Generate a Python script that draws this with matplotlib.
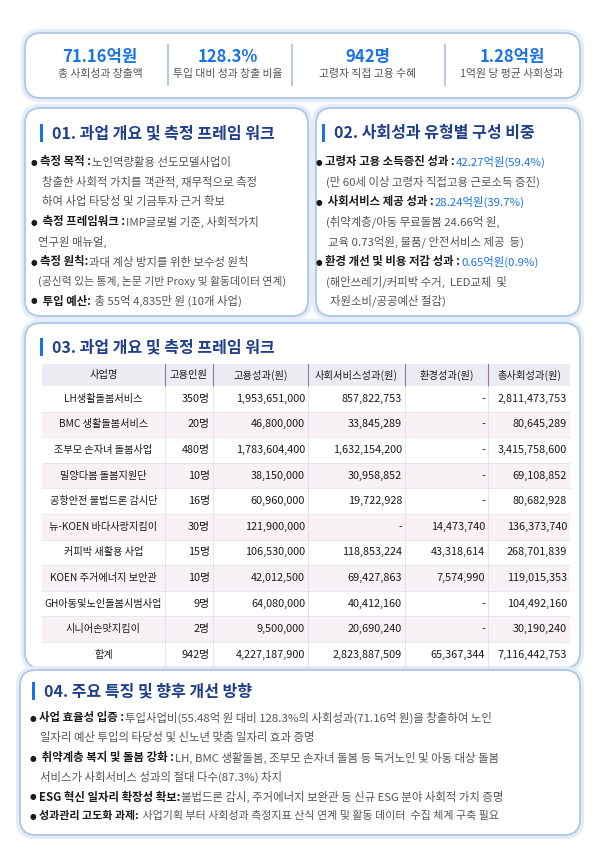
import matplotlib
matplotlib.use("Agg")
import matplotlib.pyplot as plt
from matplotlib.patches import FancyBboxPatch, Rectangle

plt.rcParams['font.family'] = ['Noto Sans CJK KR', 'DejaVu Sans']

kpi_values = ["71.16억원", "128.3%", "942명", "1.28억원"]
kpi_labels = ["총 사회성과 창출액", "투입 대비 성과 창출 비율", "고령자 직접 고용 수혜", "1억원 당 평균 사회성과"]

headers = ["사업명", "고용인원", "고용성과(원)", "사회서비스성과(원)", "환경성과(원)", "총사회성과(원)"]
projects = ["LH생활돌봄서비스", "BMC 생활돌봄서비스", "조부모 손자녀 돌봄사업", "밀양다봄 돌봄지원단",
            "공항안전 불법드론 감시단", "뉴-KOEN 바다사랑지킴이", "커피박 새활용 사업", "KOEN 주거에너지 보안관",
            "GH아동및노인돌봄시범사업", "시니어손맛지킴이", "합계"]
staff = ["350명", "20명", "480명", "10명", "16명", "30명", "15명", "10명", "9명", "2명", "942명"]
emp_perf = ["1,953,651,000", "46,800,000", "1,783,604,400", "38,150,000", "60,960,000", "121,900,000",
            "106,530,000", "42,012,500", "64,080,000", "9,500,000", "4,227,187,900"]
svc_perf = ["857,822,753", "33,845,289", "1,632,154,200", "30,958,852", "19,722,928", "-",
            "118,853,224", "69,427,863", "40,412,160", "20,690,240", "2,823,887,509"]
env_perf = ["-", "-", "-", "-", "-", "14,473,740", "43,318,614", "7,574,990", "-", "-", "65,367,344"]
total_perf = ["2,811,473,753", "80,645,289", "3,415,758,600", "69,108,852", "80,682,928", "136,373,740",
              "268,701,839", "119,015,353", "104,492,160", "30,190,240", "7,116,442,753"]

BLUE = "#1a73e8"
NAVY = "#1f3f8a"
DARK = "#1a1a1a"
GRAY = "#555555"
BORDER = "#a9c4e4"
FS = 8.2

fig = plt.figure(figsize=(5.95, 8.42), dpi=100)
ax = fig.add_axes([0, 0, 1, 1])
ax.set_xlim(0, 595); ax.set_ylim(842, 0); ax.axis("off")

def box(x0, y0, x1, y1):
    ax.add_patch(FancyBboxPatch((x0 - 2, y0 - 2), x1 - x0 + 4, y1 - y0 + 4,
                                boxstyle="round,pad=0,rounding_size=18", fc="none", ec="#e3edf9", lw=3))
    ax.add_patch(FancyBboxPatch((x0, y0), x1 - x0, y1 - y0, boxstyle="round,pad=0,rounding_size=16",
                                fc="white", ec=BORDER, lw=1.2))

def title(x, y, s):
    ax.add_patch(Rectangle((x, y - 9), 3, 18, fc=BLUE, ec="none"))
    ax.text(x + 12, y, s, fontsize=11.5, fontweight="bold", color=NAVY, va="center", ha="left")

def bullet(x, y, bold, rest, rest_color=GRAY, fs=FS):
    ax.text(x, y, "●", fontsize=5.5, color=DARK, va="center", ha="left", family="DejaVu Sans")
    t = ax.text(x + 9, y, bold, fontsize=fs, fontweight="bold", color=DARK, va="center", ha="left")
    fig.canvas.draw()
    w = t.get_window_extent().width
    ax.text(x + 9 + w + 1, y, rest, fontsize=fs, color=rest_color, va="center", ha="left")

def line(x, y, s, fs=FS, color=GRAY):
    ax.text(x, y, s, fontsize=fs, color=color, va="center", ha="left")

# KPI box
box(25, 33, 580, 98)
kx = [100, 228, 368, 512]
for i in range(4):
    ax.text(kx[i], 57, kpi_values[i], fontsize=12, fontweight="bold", color=BLUE, ha="center", va="center")
    ax.text(kx[i], 74, kpi_labels[i], fontsize=7.8, color=GRAY, ha="center", va="center")
for sx in [168, 292, 445]:
    ax.plot([sx, sx], [45, 85], color="#b8c9e3", lw=1.5)

# Box 01
box(25, 108, 308, 316)
title(40, 133, "01. 과업 개요 및 측정 프레임 워크")
bullet(31, 162, "측정 목적 :", "노인역량활용 선도모델사업이")
line(42, 182, "창출한 사회적 가치를 객관적, 재무적으로 측정")
line(42, 201, "하여 사업 타당성 및 기금투자 근거 확보")
bullet(31, 222, " 측정 프레임워크 :", "IMP글로벌 기준, 사회적가치")
line(38, 242, "연구원 매뉴얼,")
bullet(31, 262, "측정 원칙:", "과대 계상 방지를 위한 보수성 원칙")
line(38, 281, "(공신력 있는 통계, 논문 기반 Proxy 및 활동데이터 연계)", fs=7.8)
bullet(31, 301, " 투입 예산:", " 총 55억 4,835만 원 (10개 사업)")

# Box 02
box(316, 108, 580, 316)
title(322, 133, "02. 사회성과 유형별 구성 비중")
bullet(316, 162, "고령자 고용 소득증진 성과 :", "42.27억원(59.4%)", rest_color=BLUE)
line(326, 182, "(만 60세 이상 고령자 직접고용 근로소득 증진)")
bullet(316, 202, " 사회서비스 제공 성과 :", "28.24억원(39.7%)", rest_color=BLUE)
line(326, 222, "(취약계층/아동 무료돌봄 24.66억 원,")
line(328, 242, "교육 0.73억원, 물품/ 안전서비스 제공  등)")
bullet(316, 262, "환경 개선 및 비용 저감 성과 :", "0.65억원(0.9%)", rest_color=BLUE)
line(326, 282, "(해안쓰레기/커피박 수거,  LED교체  및")
line(330, 301, "자원소비/공공예산 절감)")

# Box 03 with table
box(25, 323, 580, 668)
title(40, 347, "03. 과업 개요 및 측정 프레임 워크")
cols = [42, 165, 213, 308, 405, 488, 570]
hy0, hy1 = 364, 386
ax.add_patch(Rectangle((cols[0], hy0), cols[-1] - cols[0], hy1 - hy0, fc="#ebebf2", ec="none"))
for j, h in enumerate(headers):
    ax.text((cols[j] + cols[j+1]) / 2, (hy0 + hy1) / 2, h, fontsize=7.4, color=DARK, ha="center", va="center")
for xc in cols[1:-1]:
    ax.plot([xc, xc], [hy0, hy1], color="#9b6fb5", lw=0.8)
rh = 25.6
for i in range(len(projects)):
    y0 = hy1 + i * rh
    if i % 2 == 1:
        ax.add_patch(Rectangle((cols[0], y0), cols[-1] - cols[0], rh, fc="#f8f1f5", ec="none"))
    yc = y0 + rh / 2
    ax.text((cols[0] + cols[1]) / 2, yc, projects[i], fontsize=7.3, color=DARK, ha="center", va="center")
    vals = [staff[i], emp_perf[i], svc_perf[i], env_perf[i], total_perf[i]]
    for j, v in enumerate(vals):
        ax.text(cols[j + 2] - 3, yc, v, fontsize=7.8, color=DARK, ha="right", va="center")
    ax.plot([cols[0], cols[-1]], [y0 + rh, y0 + rh], color="#e4e4ea", lw=0.6)
ybot = hy1 + len(projects) * rh
for xc in cols[1:-1]:
    ax.plot([xc, xc], [hy1, ybot], color="#e0e0e6", lw=0.6)

# Box 04
box(20, 670, 580, 835)
title(32, 691, "04. 주요 특징 및 향후 개선 방향")
bullet(30, 718, "사업 효율성 입증 :", "투입사업비(55.48억 원 대비 128.3%의 사회성과(71.16억 원)을 창출하여 노인")
line(40, 738, "일자리 예산 투입의 타당성 및 신노년 맞춤 일자리 효과 증명")
bullet(30, 758, " 취약계층 복지 및 돌봄 강화 :", "LH, BMC 생활돌봄, 조부모 손자녀 돌봄 등 독거노인 및 아동 대상 돌봄")
line(40, 777, "서비스가 사회서비스 성과의 절대 다수(87.3%) 차지")
bullet(30, 797, "ESG 혁신 일자리 확장성 확보:", "불법드론 감시, 주거에너지 보완관 등 신규 ESG 분야 사회적 가치 증명")
bullet(30, 816, "성과관리 고도화 과제:", " 사업기획 부터 사회성과 측정지표 산식 연계 및 활동 데이터  수집 체계 구축 필요", fs=7.9)

fig.savefig("out.png", dpi=100, facecolor="white")
